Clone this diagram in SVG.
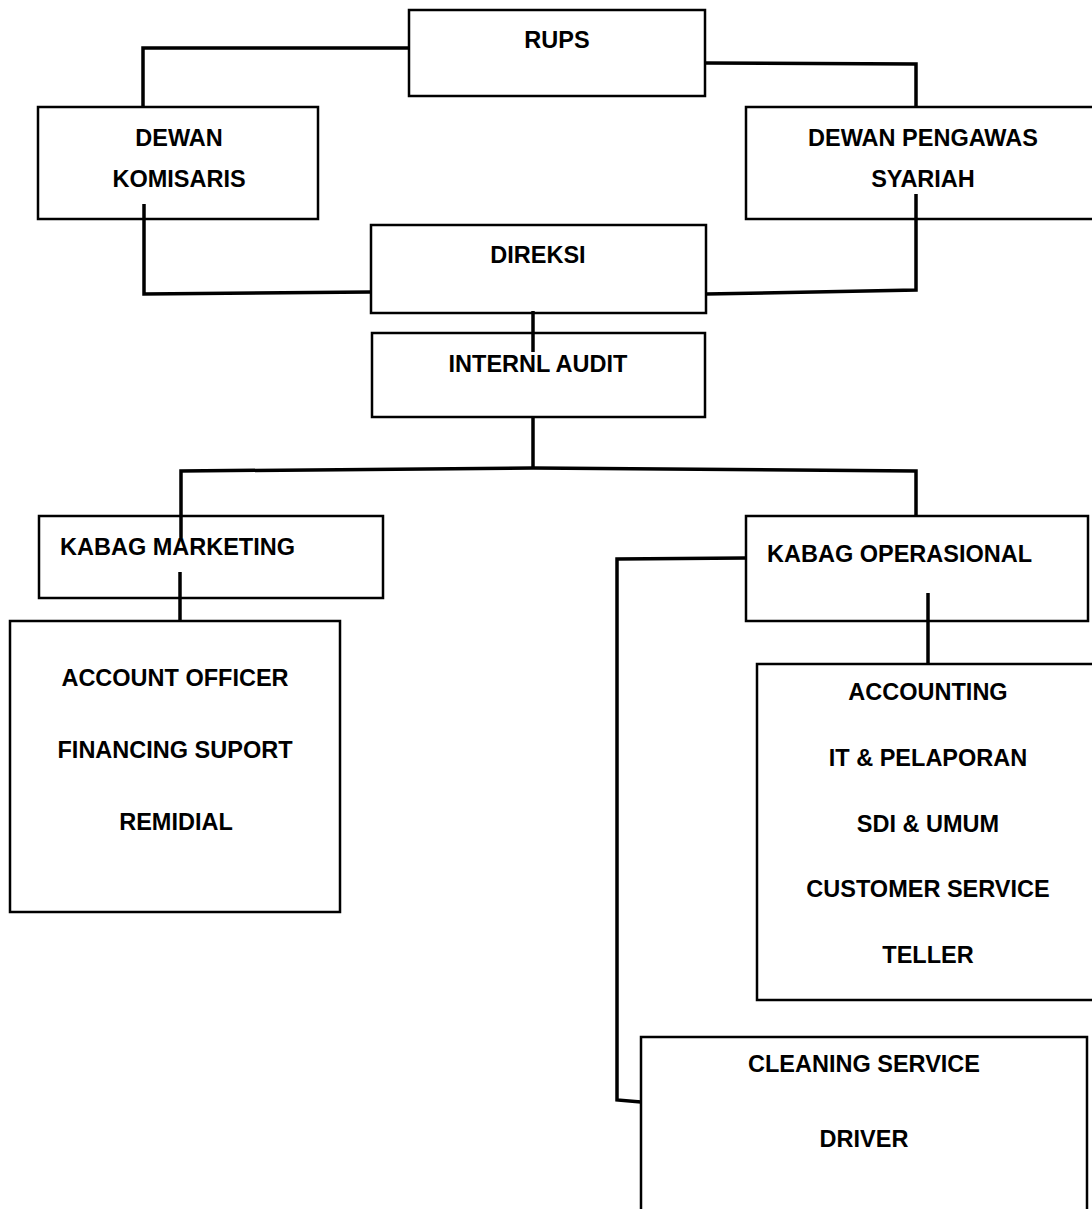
<svg xmlns="http://www.w3.org/2000/svg" width="1092" height="1209" viewBox="0 0 1092 1209">
<style>
.box{fill:#fff;stroke:#000;stroke-width:2.5}
.t{font-family:"Liberation Sans",Arial,sans-serif;font-weight:bold;font-size:23.5px;fill:#000;text-anchor:middle}
.ts{font-family:"Liberation Sans",Arial,sans-serif;font-weight:bold;font-size:23.5px;fill:#000;text-anchor:start}
.c{fill:none;stroke:#000;stroke-width:3.5;stroke-linejoin:miter}
</style>
<rect width="1092" height="1209" fill="#fff"/>
<g id="nodes">
<g id="rups"><rect class="box" x="409" y="10" width="296" height="86"/><text class="t" x="557" y="48">RUPS</text></g>
<g id="dewan-komisaris"><rect class="box" x="38" y="107" width="280" height="112"/><text class="t" x="179" y="146">DEWAN</text><text class="t" x="179" y="187">KOMISARIS</text></g>
<g id="dewan-pengawas"><rect class="box" x="746" y="107" width="360" height="112"/><text class="t" x="923" y="146">DEWAN PENGAWAS</text><text class="t" x="923" y="187">SYARIAH</text></g>
<g id="direksi"><rect class="box" x="371" y="225" width="335" height="88"/><text class="t" x="538" y="263">DIREKSI</text></g>
<g id="internal-audit"><rect class="box" x="372" y="333" width="333" height="84"/><text class="t" x="538" y="372">INTERNL AUDIT</text></g>
<g id="kabag-marketing"><rect class="box" x="39" y="516" width="344" height="82"/><text class="ts" x="60" y="555">KABAG MARKETING</text></g>
<g id="kabag-operasional"><rect class="box" x="746" y="516" width="342" height="105"/><text class="ts" x="767" y="562">KABAG OPERASIONAL</text></g>
<g id="marketing-staff"><rect class="box" x="10" y="621" width="330" height="291"/><text class="t" x="175" y="686">ACCOUNT OFFICER</text><text class="t" x="175" y="758">FINANCING SUPORT</text><text class="t" x="176" y="830">REMIDIAL</text></g>
<g id="operasional-staff"><rect class="box" x="757" y="664" width="360" height="336"/><text class="t" x="928" y="700">ACCOUNTING</text><text class="t" x="928" y="766">IT &amp; PELAPORAN</text><text class="t" x="928" y="832">SDI &amp; UMUM</text><text class="t" x="928" y="897">CUSTOMER SERVICE</text><text class="t" x="928" y="963">TELLER</text></g>
<g id="support-staff"><rect class="box" x="641" y="1037" width="446" height="200"/><text class="t" x="864" y="1072">CLEANING SERVICE</text><text class="t" x="864" y="1147">DRIVER</text></g>
</g>
<g id="connectors">
<polyline class="c" points="409,48 143,48 143,107"/>
<polyline class="c" points="705,63 916,64 916,107"/>
<polyline class="c" points="144,204 144,294 371,292"/>
<polyline class="c" points="916,194 916,290 706,294"/>
<line class="c" x1="533" y1="311" x2="533" y2="352"/>
<line class="c" x1="533" y1="417" x2="533" y2="469"/>
<polyline class="c" points="181,538 181,471 533,468 916,471 916,516"/>
<line class="c" x1="180" y1="572" x2="180" y2="621"/>
<line class="c" x1="928" y1="593" x2="928" y2="664"/>
<polyline class="c" points="746,558 617,559 617,1100 641,1102"/>
</g>
</svg>
